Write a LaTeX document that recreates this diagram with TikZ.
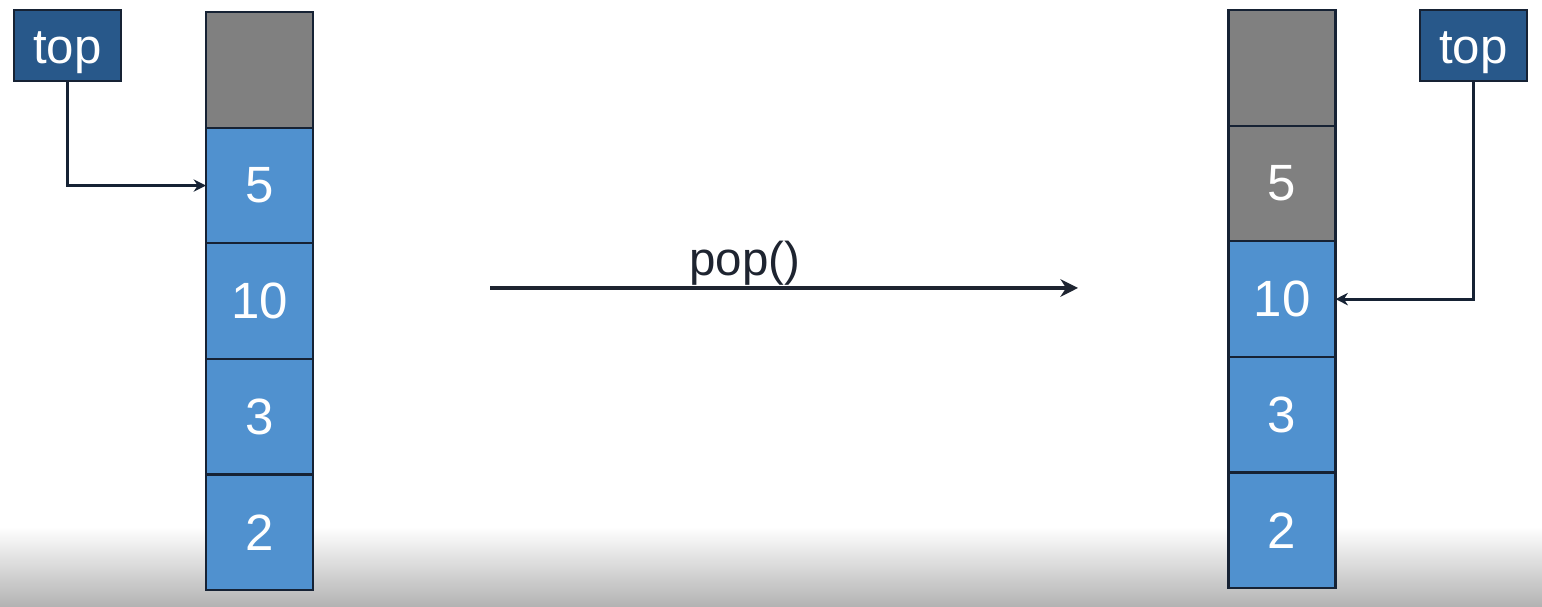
\documentclass[tikz,border=0pt]{standalone}
\usepackage{fontspec}
\setmainfont{Liberation Sans}
\usetikzlibrary{positioning,arrows.meta}

\definecolor{cellblue}{RGB}{80,145,207}
\definecolor{cellgray}{RGB}{128,128,128}
\definecolor{topblue}{RGB}{40,88,138}
\definecolor{edgecol}{RGB}{22,34,52}
\definecolor{inkcol}{RGB}{30,36,48}

\tikzset{
  cell/.style={draw=edgecol, line width=0.6pt, fill=cellblue, text=white,
    minimum width=1.07cm, minimum height=1.155cm, inner sep=0pt, outer sep=0pt,
    font=\fontsize{14.5}{16}\selectfont},
  empty/.style={cell, fill=cellgray},
  topbox/.style={draw=edgecol, line width=0.6pt, fill=topblue, text=white,
    minimum width=1.07cm, minimum height=0.71cm, inner sep=0pt,
    text height=10pt, text depth=0pt, font=\fontsize{14}{16}\selectfont},
  pointer/.style={draw=edgecol, line width=0.8pt, -{Stealth[length=3.5pt,width=3.5pt]}}
}

\begin{document}
\begin{tikzpicture}[x=0.01cm, y=0.01cm]
  \useasboundingbox (0,0) rectangle (1542,607);
  \shade[top color=white, bottom color=black!30] (0,0) rectangle (1542,80);

  % Stack before
  \node[empty] (lg) at (259.5,537) {};
  \node[cell, below=0pt of lg] (l5) {5};
  \node[cell, below=0pt of l5] (l10) {10};
  \node[cell, below=0pt of l10] (l3) {3};
  \node[cell, below=0pt of l3] (l2) {2};
  \node[topbox] (ltop) at (67.5,561.5) {top};
  \draw[pointer] (ltop.south) |- (l5.west);

  % Stack after
  \node[empty] (rg) at (1282,539) {};
  \node[empty, below=0pt of rg] (r5) {5};
  \node[cell, below=0pt of r5] (r10) {10};
  \node[cell, below=0pt of r10] (r3) {3};
  \node[cell, below=0pt of r3] (r2) {2};
  \node[topbox] (rtop) at (1473.5,561.5) {top};
  \draw[pointer] (rtop.south) |- (r10.east);

  % Operation
  \coordinate (popL) at (490,319);
  \coordinate (popR) at (1078,319);
  \draw[draw=inkcol, line width=1.3pt, -{Stealth[length=5pt,width=5pt]}] (popL) -- (popR);
  \node[text=inkcol, font=\fontsize{13.5}{16}\selectfont] (poplbl) at (745,344) {pop()};
\end{tikzpicture}
\end{document}
